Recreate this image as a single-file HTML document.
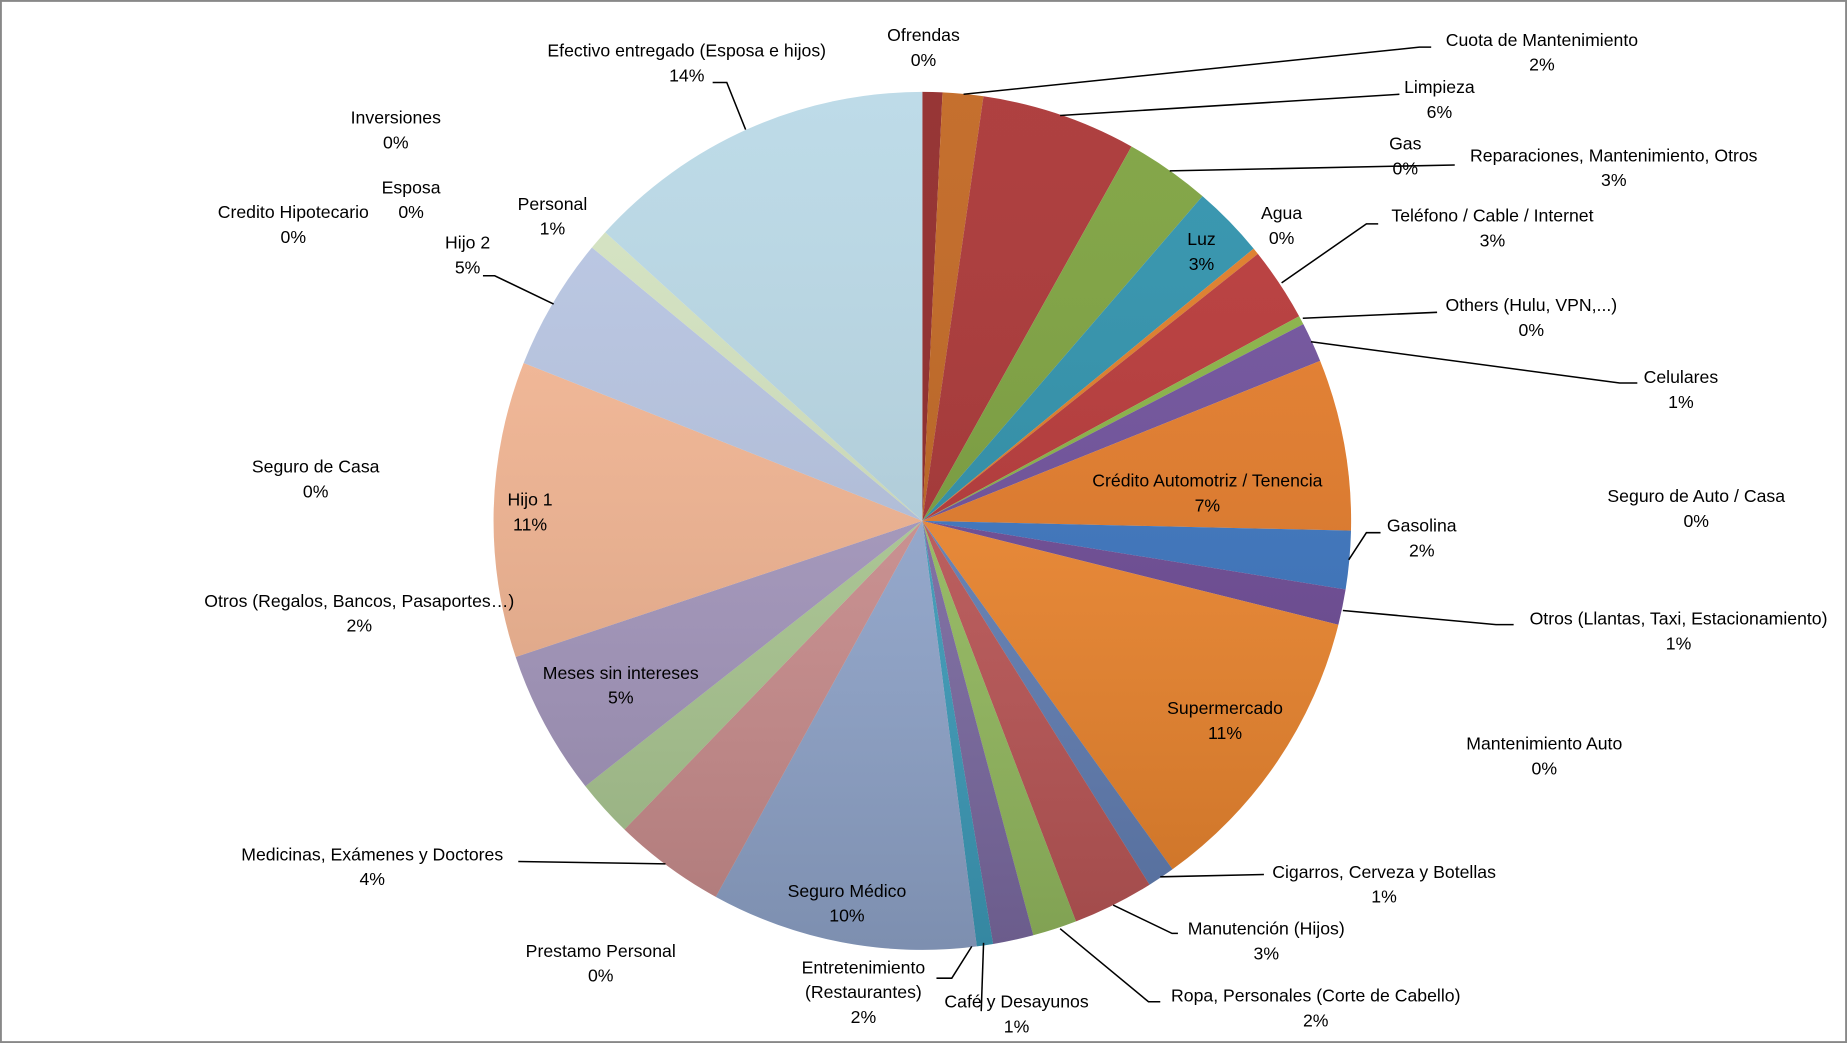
<!DOCTYPE html>
<html><head><meta charset="utf-8"><style>
html,body{margin:0;padding:0;background:#fff}
svg{display:block}
text{font-family:"Liberation Sans",sans-serif;font-size:15px;fill:#000;text-anchor:middle}
</style></head><body>
<svg id="s" width="1847" height="1043" viewBox="0 0 1568 885" preserveAspectRatio="none" xmlns="http://www.w3.org/2000/svg">
<defs>
<linearGradient id="sh" x1="0" y1="0" x2="0" y2="1">
<stop offset="0" stop-color="#fff" stop-opacity="0.08"/>
<stop offset="1" stop-color="#000" stop-opacity="0.18"/>
</linearGradient>
</defs>
<rect x="0.8" y="0.8" width="1566.4" height="883.4" fill="#fff" stroke="#888" stroke-width="1.6"/>
<g id="pie"></g>
<circle cx="783" cy="442" r="364" fill="url(#sh)"/>
<g fill="none" stroke="#000" stroke-width="1.3">
<polyline points="818,80 1205,40 1215,40"/>
<polyline points="900,98 1188,80"/>
<polyline points="993,145 1235,140"/>
<polyline points="1088,240 1160,190 1170,190"/>
<polyline points="1106,270 1220,265"/>
<polyline points="1113,290 1375,325 1390,325"/>
<polyline points="1145,475 1160,452 1172,452"/>
<polyline points="1140,518 1270,530 1285,530"/>
<polyline points="985,744 1073,742"/>
<polyline points="945,768 995,792 1000,792"/>
<polyline points="900,788 975,850 985,850"/>
<polyline points="835,800 833,858"/>
<polyline points="825,803 808,830 795,830"/>
<polyline points="565,733 440,731"/>
<polyline points="470,258 420,234 410,234"/>
<polyline points="633,110 617,70 605,70"/>
</g>
<g>
<text x="583" y="48">Efectivo entregado (Esposa e hijos)</text><text x="583" y="69">14%</text>
<text x="784" y="35">Ofrendas</text><text x="784" y="56">0%</text>
<text x="1309" y="39">Cuota de Mantenimiento</text><text x="1309" y="60">2%</text>
<text x="1222" y="79">Limpieza</text><text x="1222" y="100">6%</text>
<text x="1193" y="127">Gas</text><text x="1193" y="148">0%</text>
<text x="1370" y="137">Reparaciones, Mantenimiento, Otros</text><text x="1370" y="158">3%</text>
<text x="1088" y="186">Agua</text><text x="1088" y="207">0%</text>
<text x="1020" y="208">Luz</text><text x="1020" y="229">3%</text>
<text x="1267" y="188">Teléfono / Cable / Internet</text><text x="1267" y="209">3%</text>
<text x="1300" y="264">Others (Hulu, VPN,...)</text><text x="1300" y="285">0%</text>
<text x="1427" y="325">Celulares</text><text x="1427" y="346">1%</text>
<text x="1025" y="413">Crédito Automotriz / Tenencia</text><text x="1025" y="434">7%</text>
<text x="1440" y="426">Seguro de Auto / Casa</text><text x="1440" y="447">0%</text>
<text x="1207" y="451">Gasolina</text><text x="1207" y="472">2%</text>
<text x="1425" y="530">Otros (Llantas, Taxi, Estacionamiento)</text><text x="1425" y="551">1%</text>
<text x="1040" y="606">Supermercado</text><text x="1040" y="627">11%</text>
<text x="1311" y="636">Mantenimiento Auto</text><text x="1311" y="657">0%</text>
<text x="1175" y="745">Cigarros, Cerveza y Botellas</text><text x="1175" y="766">1%</text>
<text x="1075" y="793">Manutención (Hijos)</text><text x="1075" y="814">3%</text>
<text x="1117" y="850">Ropa, Personales (Corte de Cabello)</text><text x="1117" y="871">2%</text>
<text x="863" y="855">Café y Desayunos</text><text x="863" y="876">1%</text>
<text x="733" y="826">Entretenimiento</text><text x="733" y="847">(Restaurantes)</text><text x="733" y="868">2%</text>
<text x="719" y="761">Seguro Médico</text><text x="719" y="782">10%</text>
<text x="510" y="812">Prestamo Personal</text><text x="510" y="833">0%</text>
<text x="316" y="730">Medicinas, Exámenes y Doctores</text><text x="316" y="751">4%</text>
<text x="527" y="576">Meses sin intereses</text><text x="527" y="597">5%</text>
<text x="305" y="515">Otros (Regalos, Bancos, Pasaportes…)</text><text x="305" y="536">2%</text>
<text x="450" y="429">Hijo 1</text><text x="450" y="450">11%</text>
<text x="268" y="401">Seguro de Casa</text><text x="268" y="422">0%</text>
<text x="397" y="211">Hijo 2</text><text x="397" y="232">5%</text>
<text x="469" y="178">Personal</text><text x="469" y="199">1%</text>
<text x="249" y="185">Credito Hipotecario</text><text x="249" y="206">0%</text>
<text x="349" y="164">Esposa</text><text x="349" y="185">0%</text>
<text x="336" y="105">Inversiones</text><text x="336" y="126">0%</text>
</g>
</svg>
<script>
var d=[[2.7,"#8e2424"],[8.2,"#c0631c"],[29.2,"#a83030"],[40.8,"#7aa03a"],[50.6,"#2a90ab"],[51.5,"#e07a22"],[61.5,"#b83434"],[62.7,"#88b442"],[68.1,"#6e4e9c"],[91.3,"#e87b26"],[99.2,"#3a76c4"],[104,"#6e4a98"],[144.3,"#f68a2e"],[148,"#6684bc"],[159,"#c45a5a"],[165,"#9cc464"],[170.5,"#8270aa"],[172.7,"#40a4c4"],[208.8,"#98aed6"],[224,"#d49494"],[231.8,"#b2d098"],[251.5,"#aa9cc4"],[291.6,"#f8b894"],[309.6,"#b8c6e4"],[312.3,"#d4e4c0"],[360,"#b8d8e6"]];
var cx=783,cy=442,r=364,a0=0,g=document.getElementById("pie"),h="";
function p(a){a=a*Math.PI/180;return (cx+r*Math.sin(a)).toFixed(2)+","+(cy-r*Math.cos(a)).toFixed(2);}
d.forEach(function(s){var a1=s[0];h+='<path d="M'+cx+','+cy+' L'+p(a0)+' A'+r+','+r+' 0 '+((a1-a0)>180?1:0)+' 1 '+p(a1)+' Z" fill="'+s[1]+'"/>';a0=a1;});
g.innerHTML=h;
</script>
</body></html>
